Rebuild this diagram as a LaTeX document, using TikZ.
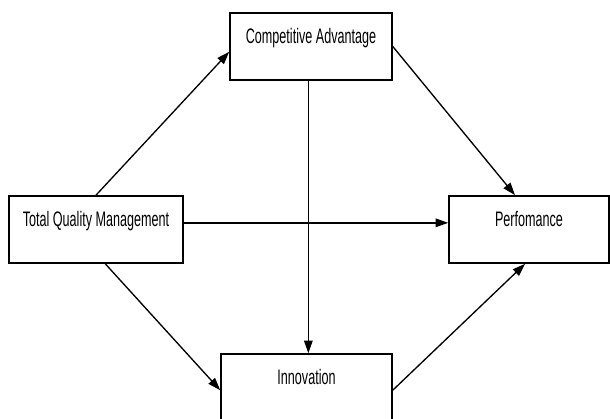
\documentclass[tikz,border=0pt]{standalone}
\usepackage{fontspec}
\usetikzlibrary{arrows.meta,positioning}
\newfontfamily\boxfont[FakeStretch=0.6]{Liberation Sans}

\tikzset{construct/.style={draw,line width=1.2pt,inner xsep=0pt,inner ysep=0pt,
  minimum width=#1,text height=22.9pt,text depth=27.4pt,
  font=\boxfont\fontsize{15.75}{18}\selectfont}}

\begin{document}
\begin{tikzpicture}[->,>={Triangle[length=9.5pt,width=6.5pt]},x=0.75pt,y=-0.75pt,node distance=324.75pt,line width=1pt]
  \useasboundingbox (0,0) rectangle (610,418);
  \clip (0,0) rectangle (610,418);

  \node[construct=130.5pt]	(TQM) at (96,229.5)	{Total Quality Management};
  \node[construct=120pt]	(Perf) [right of=TQM]	{Perfomance};
  \node[construct=121.5pt]	(CA) at (311,46.5)	{Competitive Advantage};
  \node[construct=128.25pt]	(Innov) at (306.5,387.5)	{Innovation};

  \path 	(TQM.north) edge ([yshift=-4pt]CA.west)
		(CA.east) edge ([xshift=-10.5pt]Perf.north)
		([yshift=5pt]TQM.east) edge ([yshift=5pt]Perf.west)
		([xshift=7pt]TQM.south) edge ([yshift=-2pt]Innov.west)
		([xshift=-2pt]CA.south) edge ([xshift=-2pt]CA.south |- Innov.north)
		([yshift=-2pt]Innov.east) edge ([xshift=-3pt]Perf.south);
\end{tikzpicture}
\end{document}
